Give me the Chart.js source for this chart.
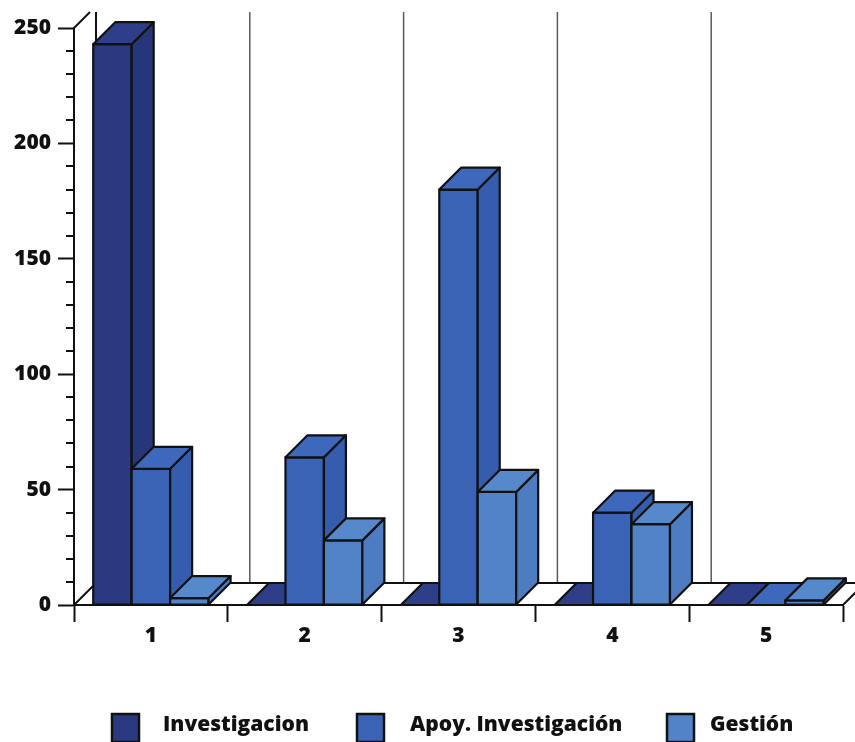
<!DOCTYPE html>
<html>
<head>
<meta charset="utf-8">
<script src="https://cdn.jsdelivr.net/npm/chart.js@4/dist/chart.umd.min.js"></script>
<style>
  html, body { margin: 0; padding: 0; background: #ffffff; }
  #wrap { width: 855px; height: 742px; position: relative; }
</style>
</head>
<body>
<div id="wrap"><canvas id="c" width="855" height="742"></canvas></div>
<script>
// Categories and series
const categories = ['1', '2', '3', '4', '5'];
const investigacion = [243, 0, 0, 0, 0];
const apoyoInvestigacion = [59, 64, 180, 40, 0];
const gestion = [3, 28, 49, 35, 2];
const seriesNames = ['Investigacion', 'Apoy. Investigación', 'Gestión'];
const yTicks = [0, 50, 100, 150, 200, 250];

// Face colours for each series: front, top, side
const faceColors = [
  { front: '#2b3a80', top: '#2e3e88', side: '#27357a' },
  { front: '#3a63b6', top: '#3d68bc', side: '#355cad' },
  { front: '#5283c7', top: '#5688cc', side: '#4d7cc0' }
];

const DEPTH_X = 22;   // depth offset of the 3D boxes
const DEPTH_Y = 22;
const FONT = '"Open Sans", "Liberation Sans", sans-serif';

// Back wall, floor, 3D boxes and legend row
const backdrop = {
  id: 'backdrop',
  beforeDatasetsDraw(chart) {
    const { ctx, chartArea: a, scales: { y } } = chart;
    const base = y.getPixelForValue(0);
    const topY = 12;
    ctx.save();
    // back wall category separators
    ctx.strokeStyle = '#5a5a5a';
    ctx.lineWidth = 1.5;
    for (let i = 1; i <= categories.length; i++) {
      const bx = a.left + (a.right - a.left) * i / categories.length + DEPTH_X;
      ctx.beginPath();
      ctx.moveTo(bx, topY);
      ctx.lineTo(bx, base - DEPTH_Y);
      ctx.stroke();
    }
    // back wall left edge and the diagonal from the axis top
    ctx.strokeStyle = '#111';
    ctx.lineWidth = 2;
    ctx.beginPath();
    ctx.moveTo(a.left + DEPTH_X, topY);
    ctx.lineTo(a.left + DEPTH_X, base - DEPTH_Y);
    ctx.stroke();
    ctx.beginPath();
    ctx.moveTo(a.left, a.top);
    ctx.lineTo(a.left + (a.top - topY), topY);
    ctx.stroke();
    // floor
    ctx.fillStyle = '#ffffff';
    ctx.beginPath();
    ctx.moveTo(a.left, base);
    ctx.lineTo(a.left + DEPTH_X, base - DEPTH_Y);
    ctx.lineTo(a.right + DEPTH_X, base - DEPTH_Y);
    ctx.lineTo(a.right, base);
    ctx.closePath();
    ctx.fill();
    ctx.stroke();
    // minor ticks on the value axis
    ctx.lineWidth = 2;
    for (let v = 0; v <= 250; v += 10) {
      if (v % 50 === 0) continue;
      const py = Math.round(y.getPixelForValue(v));
      ctx.beginPath();
      ctx.moveTo(a.left - 8, py);
      ctx.lineTo(a.left, py);
      ctx.stroke();
    }
    ctx.restore();
  },
  afterDatasetsDraw(chart) {
    const { ctx } = chart;
    ctx.save();
    ctx.lineWidth = 2.2;
    ctx.lineJoin = 'round';
    ctx.strokeStyle = '#111';
    const nCat = categories.length;
    for (let i = 0; i < nCat; i++) {
      chart.data.datasets.forEach((ds, di) => {
        const el = chart.getDatasetMeta(di).data[i];
        const p = el.getProps(['x', 'y', 'base', 'width'], true);
        const x0 = p.x - p.width / 2, x1 = p.x + p.width / 2;
        const top = p.y, bot = p.base;
        const c = faceColors[di];
        if (bot - top > 0.5) {
          // front face
          ctx.fillStyle = c.front;
          ctx.beginPath();
          ctx.rect(x0, top, x1 - x0, bot - top);
          ctx.fill(); ctx.stroke();
          // side face
          ctx.fillStyle = c.side;
          ctx.beginPath();
          ctx.moveTo(x1, top);
          ctx.lineTo(x1 + DEPTH_X, top - DEPTH_Y);
          ctx.lineTo(x1 + DEPTH_X, bot - DEPTH_Y);
          ctx.lineTo(x1, bot);
          ctx.closePath();
          ctx.fill(); ctx.stroke();
        }
        // top face
        ctx.fillStyle = c.top;
        ctx.beginPath();
        ctx.moveTo(x0, top);
        ctx.lineTo(x0 + DEPTH_X, top - DEPTH_Y);
        ctx.lineTo(x1 + DEPTH_X, top - DEPTH_Y);
        ctx.lineTo(x1, top);
        ctx.closePath();
        ctx.fill(); ctx.stroke();
      });
    }
    ctx.restore();
  },
  afterDraw(chart) {
    // legend row
    const { ctx } = chart;
    const items = [
      { box: 112, text: 163 },
      { box: 357, text: 410 },
      { box: 667, text: 710 }
    ];
    ctx.save();
    ctx.font = '800 21px ' + FONT;
    ctx.textBaseline = 'alphabetic';
    items.forEach((it, i) => {
      ctx.fillStyle = faceColors[i].front;
      ctx.strokeStyle = '#111';
      ctx.lineWidth = 2.5;
      ctx.fillRect(it.box, 714, 27, 28);
      ctx.strokeRect(it.box, 714, 27, 28);
      ctx.fillStyle = '#111';
      ctx.fillText(seriesNames[i], it.text, 731);
    });
    ctx.restore();
  }
};

const seriesData = [investigacion, apoyoInvestigacion, gestion];

new Chart(document.getElementById('c'), {
  type: 'bar',
  data: {
    labels: categories,
    datasets: seriesNames.map((name, i) => ({
      label: name,
      data: seriesData[i],
      backgroundColor: 'rgba(0,0,0,0)',
      borderWidth: 0,
      categoryPercentage: 0.75,
      barPercentage: 1.0
    }))
  },
  options: {
    responsive: false,
    animation: false,
    layout: { padding: { left: 0, right: 12, top: 28, bottom: 0 } },
    plugins: { legend: { display: false }, tooltip: { enabled: false } },
    scales: {
      x: {
        grid: {
          drawOnChartArea: false,
          drawTicks: true,
          tickLength: 17,
          tickColor: '#111',
          tickWidth: 2,
          offset: true
        },
        border: { display: true, color: '#111', width: 2 },
        ticks: {
          color: '#111',
          font: { family: FONT, size: 21, weight: '800' },
          padding: 1
        },
        afterFit(scale) { scale.height = 137; }
      },
      y: {
        min: 0,
        max: 250,
        afterBuildTicks(scale) { scale.ticks = yTicks.map(v => ({ value: v })); },
        grid: {
          drawOnChartArea: false,
          drawTicks: true,
          tickLength: 16,
          tickColor: '#111',
          tickWidth: 2
        },
        border: { display: true, color: '#111', width: 2 },
        ticks: {
          color: '#111',
          font: { family: FONT, size: 21, weight: '800' },
          padding: 7
        },
        afterFit(scale) { scale.width = 74; }
      }
    }
  },
  plugins: [backdrop]
});
</script>
</body>
</html>
